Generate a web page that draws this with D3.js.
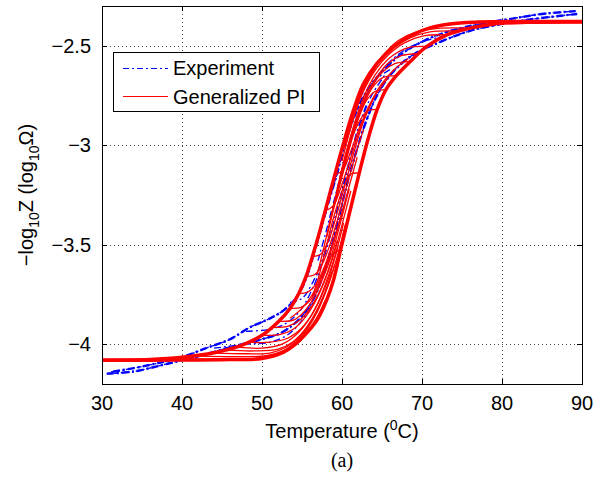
<!DOCTYPE html>
<html>
<head>
<meta charset="utf-8">
<script src="https://d3js.org/d3.v7.min.js"></script>
<style>
  body { margin: 0; background: #fff; }
  svg text { font-family: "Liberation Sans", Arial, Helvetica, sans-serif; fill: #000; }
</style>
</head>
<body>
<script>
// axis ticks
var xTicks = [30, 40, 50, 60, 70, 80, 90];
var yTicks = [-4, -3.5, -3, -2.5];

// experiment: outer loop (heating / cooling branches) and inner branches
var blueHeat = [[30.6,-4.148],[34,-4.137],[37,-4.11],[40,-4.08],[43,-4.05],[46.5,-4.01],[50,-3.975],[52.5,-3.94],[54.5,-3.88],[56.2,-3.79],[57.5,-3.67],[58.5,-3.54],[59.5,-3.38],[60.6,-3.2],[61.8,-3.03],[63.1,-2.87],[64.5,-2.74],[66.4,-2.63],[68.9,-2.545],[72.3,-2.48],[76,-2.425],[80,-2.39],[84,-2.365],[89.4,-2.34]];
var blueCool = [[89.2,-2.326],[85,-2.34],[81.5,-2.362],[78,-2.385],[74,-2.42],[70.5,-2.47],[67.5,-2.54],[65,-2.63],[63.2,-2.72],[61.7,-2.84],[60.4,-2.99],[59.4,-3.14],[58,-3.33],[56.6,-3.53],[55.5,-3.67],[54.4,-3.76],[52.7,-3.83],[51,-3.87],[48.5,-3.915],[46,-3.975],[43,-4.02],[40,-4.065],[37,-4.095],[34,-4.12],[31,-4.14]];
var blueB1 = [[48,-3.935],[51,-3.925],[53,-3.895],[54.8,-3.83],[56.2,-3.73],[57.4,-3.61],[58.5,-3.46],[59.6,-3.29],[60.7,-3.11],[61.8,-2.94],[63,-2.8]];
var blueB2 = [[44,-4.02],[48,-4.0],[51,-3.99],[53.3,-3.95],[55,-3.88],[56.4,-3.79]];
var blueB3 = [[53.5,-3.79],[55,-3.77],[56.2,-3.7],[57.3,-3.6],[58.3,-3.48],[59.3,-3.34],[60.3,-3.19],[61.3,-3.03],[62.4,-2.88],[63.7,-2.75],[65.3,-2.65]];
var blueB4 = [[73,-2.45],[70,-2.48],[67.5,-2.53],[65.5,-2.6],[64,-2.68],[62.7,-2.78],[61.6,-2.9],[60.6,-3.03],[59.7,-3.17],[58.8,-3.31],[57.9,-3.45],[57,-3.58]];
var blueB5 = [[66,-2.62],[64.5,-2.66],[63.3,-2.73],[62.2,-2.83],[61.2,-2.95],[60.2,-3.1],[59.3,-3.26]];

// generalized PI model: outer loop
var redHeat = [[30,-4.08],[36,-4.08],[42,-4.079],[46,-4.077],[50,-4.072],[52.7,-4.04],[54,-4.005],[55.2,-3.96],[56.9,-3.877],[58.1,-3.776],[58.95,-3.676],[59.8,-3.53],[61,-3.33],[62.15,-3.14],[63.25,-2.97],[64.4,-2.82],[65.5,-2.72],[66.8,-2.65],[68.5,-2.58],[70.6,-2.503],[73.1,-2.445],[76,-2.411],[79,-2.39],[83,-2.382],[90,-2.38]];
var redCool = [[90,-2.378],[82,-2.378],[77,-2.381],[73.5,-2.39],[71,-2.41],[68.8,-2.445],[66.45,-2.505],[64.4,-2.587],[62.7,-2.69],[61.45,-2.822],[60.2,-2.989],[59.1,-3.15],[57.9,-3.33],[57.1,-3.45],[56.3,-3.56],[55.5,-3.66],[54.6,-3.745],[53.5,-3.82],[52.1,-3.885],[50.2,-3.95],[47.5,-4.005],[44,-4.043],[40,-4.066],[36,-4.077],[30,-4.08]];

// generalized PI model: heating reversal curves
var redH0 = [[40,-4.074],[46,-4.074],[50,-4.068],[52.6,-4.045],[54.2,-4.005],[55.5,-3.95],[56.8,-3.87],[57.9,-3.78]];
var redH1 = [[42,-4.06],[47,-4.062],[50.5,-4.058],[52.8,-4.03],[54.3,-3.985],[55.7,-3.92],[57,-3.83],[58.1,-3.72],[59.1,-3.6]];
var redH2 = [[44,-4.045],[48,-4.048],[51,-4.045],[53,-4.015],[54.6,-3.965],[56,-3.895],[57.3,-3.8],[58.4,-3.69],[59.4,-3.56],[60.4,-3.4]];
var redH3 = [[47,-4.015],[50,-4.02],[52.5,-4.0],[54.2,-3.955],[55.6,-3.89],[56.9,-3.8],[58,-3.69],[59.1,-3.56],[60.2,-3.39]];
var redH4 = [[50.2,-3.955],[52.2,-3.952],[53.9,-3.925],[55.3,-3.87],[56.6,-3.79],[57.8,-3.685],[58.9,-3.56],[60,-3.4],[61.1,-3.23]];
var redH5 = [[52.1,-3.885],[54,-3.878],[55.3,-3.835],[56.5,-3.765],[57.6,-3.67],[58.7,-3.55],[59.8,-3.39],[60.9,-3.22]];
var redH6 = [[54.6,-3.745],[55.7,-3.738],[56.7,-3.7],[57.6,-3.63],[58.6,-3.52],[59.7,-3.38],[60.8,-3.22],[61.9,-3.06]];
var redH7 = [[55.5,-3.66],[56.6,-3.65],[57.5,-3.6],[58.4,-3.51],[59.4,-3.38],[60.5,-3.22],[61.6,-3.06],[62.7,-2.92]];
var redH8 = [[56.3,-3.56],[57.4,-3.545],[58.4,-3.47],[59.4,-3.34],[60.5,-3.18],[61.6,-3.02],[62.7,-2.88],[64,-2.76]];
var redH9 = [[57.9,-3.33],[58.9,-3.305],[59.8,-3.22],[60.8,-3.1],[61.9,-2.96],[63,-2.84],[64.3,-2.74],[65.8,-2.66]];
var redH10 = [[59.1,-3.15],[60.1,-3.125],[61.1,-3.03],[62.2,-2.91],[63.4,-2.8],[64.8,-2.7],[66.5,-2.62],[68.3,-2.565]];
var redH11 = [[45.5,-4.03],[49,-4.034],[52,-4.025],[53.8,-3.99],[55.2,-3.935],[56.5,-3.855],[57.7,-3.755],[58.8,-3.63]];
var redH12 = [[48.5,-3.99],[51,-3.99],[53.2,-3.97],[54.8,-3.925],[56.1,-3.86],[57.3,-3.77],[58.4,-3.66],[59.5,-3.51]];
var redH13 = [[51.3,-3.915],[53.2,-3.91],[54.7,-3.88],[56,-3.82],[57.2,-3.735],[58.3,-3.625],[59.4,-3.48]];
var redH14 = [[53.5,-3.82],[54.9,-3.815],[56,-3.78],[57,-3.71],[58,-3.61],[59.1,-3.47],[60.2,-3.31]];

// generalized PI model: cooling reversal curves
var redC1 = [[76,-2.411],[72,-2.412],[69.3,-2.43],[67,-2.475],[65.1,-2.55],[63.6,-2.64],[62.4,-2.74],[61.4,-2.86],[60.5,-2.99]];
var redC2 = [[73.1,-2.445],[70.2,-2.45],[67.8,-2.485],[65.8,-2.545],[64.2,-2.62],[62.9,-2.71],[61.8,-2.82],[60.9,-2.94],[60,-3.08]];
var redC3 = [[70.6,-2.503],[68.2,-2.51],[66.3,-2.55],[64.8,-2.61],[63.5,-2.69],[62.4,-2.79],[61.4,-2.91],[60.5,-3.04],[59.7,-3.17]];
var redC4 = [[68.5,-2.58],[66.6,-2.59],[65.1,-2.63],[63.8,-2.7],[62.7,-2.79],[61.7,-2.9],[60.8,-3.02],[59.9,-3.16],[59,-3.3]];
var redC5 = [[66.8,-2.65],[65.1,-2.66],[63.8,-2.71],[62.7,-2.8],[61.6,-2.92],[60.7,-3.05],[59.8,-3.19],[58.9,-3.33],[58.1,-3.46]];
var redC6 = [[64.4,-2.82],[63.1,-2.83],[62.1,-2.885],[61.2,-2.97],[60.3,-3.09],[59.4,-3.23],[58.5,-3.38],[57.7,-3.52],[56.9,-3.65]];
var redC7 = [[62.15,-3.14],[61.1,-3.145],[60.3,-3.2],[59.5,-3.29],[58.7,-3.4],[57.9,-3.53],[57.1,-3.66],[56.3,-3.76]];
var redC8 = [[59.8,-3.53],[59,-3.54],[58.2,-3.59],[57.3,-3.67],[56.3,-3.75],[55,-3.82],[53.5,-3.87]];
var redC9 = [[74.5,-2.425],[71,-2.43],[68.5,-2.46],[66.4,-2.51],[64.7,-2.58],[63.3,-2.67],[62.1,-2.77],[61.1,-2.89],[60.2,-3.02]];
var redC10 = [[69.5,-2.54],[67.4,-2.55],[65.7,-2.59],[64.3,-2.66],[63.1,-2.74],[62,-2.85],[61,-2.97],[60.1,-3.1],[59.3,-3.24]];
var redC11 = [[65.5,-2.72],[64.1,-2.73],[62.9,-2.785],[61.9,-2.87],[61,-2.99],[60.1,-3.12],[59.2,-3.26],[58.4,-3.4]];

var blueInner = [blueB1, blueB2, blueB3, blueB4, blueB5];
var redInner = [redH0, redH1, redH2, redH3, redH4, redH5, redH6, redH7, redH8, redH9, redH10,
                redH11, redH12, redH13, redH14,
                redC1, redC2, redC3, redC4, redC5, redC6, redC7, redC8, redC9, redC10, redC11];

var W = 604, H = 477;
var pL = 102, pR = 582, pT = 6, pB = 384;

var x = d3.scaleLinear().domain([30, 90]).range([pL, pR]);
var y = d3.scaleLinear().domain([-4.2, -2.3]).range([pB, pT]);

var svg = d3.select("body").append("svg").attr("width", W).attr("height", H);

svg.append("clipPath").attr("id", "plotclip")
  .append("rect").attr("x", pL).attr("y", pT).attr("width", pR - pL).attr("height", pB - pT);

// grid
var grid = svg.append("g").attr("stroke", "#444").attr("stroke-width", 1).attr("stroke-dasharray", "1,3");
xTicks.filter(function(t) { return t > 30 && t < 90; }).forEach(function(t) {
  grid.append("line").attr("x1", Math.round(x(t)) + 0.5).attr("x2", Math.round(x(t)) + 0.5)
    .attr("y1", pT).attr("y2", pB);
});
yTicks.forEach(function(t) {
  grid.append("line").attr("y1", Math.round(y(t)) + 0.5).attr("y2", Math.round(y(t)) + 0.5)
    .attr("x1", pL).attr("x2", pR);
});

var line = d3.line().x(function(d) { return x(d[0]); }).y(function(d) { return y(d[1]); })
  .curve(d3.curveCatmullRom.alpha(0.5));

var plot = svg.append("g").attr("clip-path", "url(#plotclip)").attr("fill", "none");

// experiment (blue dash-dot), drawn first
var dashDot = "7,3,2,3";
blueInner.forEach(function(c) {
  plot.append("path").attr("d", line(c)).attr("stroke", "#0000ff").attr("stroke-width", 1.3).attr("stroke-dasharray", dashDot);
});
[blueHeat, blueCool].forEach(function(c) {
  plot.append("path").attr("d", line(c)).attr("stroke", "#0000ff").attr("stroke-width", 2.4).attr("stroke-dasharray", dashDot);
  plot.append("path").attr("d", line(c)).attr("stroke", "#0000ff").attr("stroke-width", 1.4).attr("stroke-dasharray", "5,2,2,2").attr("stroke-dashoffset", 4);
});

// generalized PI (red solid)
redInner.forEach(function(c) {
  plot.append("path").attr("d", line(c)).attr("stroke", "#ff0000").attr("stroke-width", 1.3);
});
[redHeat, redCool].forEach(function(c) {
  plot.append("path").attr("d", line(c)).attr("stroke", "#ff0000").attr("stroke-width", 3.5);
});

// axes box and ticks
var axes = svg.append("g").attr("stroke", "#000").attr("stroke-width", 1).attr("fill", "none");
axes.append("rect").attr("x", pL + 0.5).attr("y", pT + 0.5)
  .attr("width", pR - pL).attr("height", pB - pT);
var tl = 5;
xTicks.forEach(function(t) {
  var px = Math.round(x(t)) + 0.5;
  axes.append("line").attr("x1", px).attr("x2", px).attr("y1", pB).attr("y2", pB - tl);
  axes.append("line").attr("x1", px).attr("x2", px).attr("y1", pT).attr("y2", pT + tl);
});
yTicks.forEach(function(t) {
  var py = Math.round(y(t)) + 0.5;
  axes.append("line").attr("x1", pL).attr("x2", pL + tl).attr("y1", py).attr("y2", py);
  axes.append("line").attr("x1", pR).attr("x2", pR - tl).attr("y1", py).attr("y2", py);
});

// tick labels
svg.append("g").selectAll("text").data(xTicks).enter().append("text")
  .attr("x", function(d) { return x(d); }).attr("y", 410)
  .attr("text-anchor", "middle").style("font-size", "20px")
  .text(function(d) { return d; });
svg.append("g").selectAll("text").data(yTicks).enter().append("text")
  .attr("x", 91).attr("y", function(d) { return y(d) + 7; })
  .attr("text-anchor", "end").style("font-size", "20px")
  .text(function(d) { return String(d).replace("-", "\u2212"); });

// axis titles
var xl = svg.append("text").attr("x", (pL + pR) / 2).attr("y", 438)
  .attr("text-anchor", "middle").style("font-size", "20px");
xl.append("tspan").text("Temperature (");
xl.append("tspan").attr("dy", -8).style("font-size", "14px").text("0");
xl.append("tspan").attr("dy", 8).text("C)");

var yl = svg.append("text").attr("transform", "translate(33," + ((pT + pB) / 2) + ") rotate(-90)")
  .attr("text-anchor", "middle").style("font-size", "20px");
yl.append("tspan").text("\u2212log");
yl.append("tspan").attr("dy", 6).style("font-size", "14px").text("10");
yl.append("tspan").attr("dy", -6).text("Z (log");
yl.append("tspan").attr("dy", 6).style("font-size", "14px").text("10");
yl.append("tspan").attr("dy", -6).text("\u03a9)");

svg.append("text").attr("x", (pL + pR) / 2).attr("y", 467).attr("text-anchor", "middle")
  .style("font-family", "'Liberation Serif', 'Times New Roman', serif").style("font-size", "20px")
  .text("(a)");

// legend
var lg = svg.append("g");
lg.append("rect").attr("x", 113.5).attr("y", 52.5).attr("width", 206).attr("height", 59)
  .attr("fill", "#fff").attr("stroke", "#000").attr("stroke-width", 1);
lg.append("line").attr("x1", 123).attr("x2", 168).attr("y1", 68.5).attr("y2", 68.5)
  .attr("stroke", "#0000ff").attr("stroke-width", 1).attr("stroke-dasharray", "6,3,2,3");
lg.append("text").attr("x", 173).attr("y", 75).style("font-size", "20px").text("Experiment");
lg.append("line").attr("x1", 123).attr("x2", 168).attr("y1", 96.5).attr("y2", 96.5)
  .attr("stroke", "#ff0000").attr("stroke-width", 1);
lg.append("text").attr("x", 173).attr("y", 104).style("font-size", "20px").text("Generalized PI");
</script>
</body>
</html>
